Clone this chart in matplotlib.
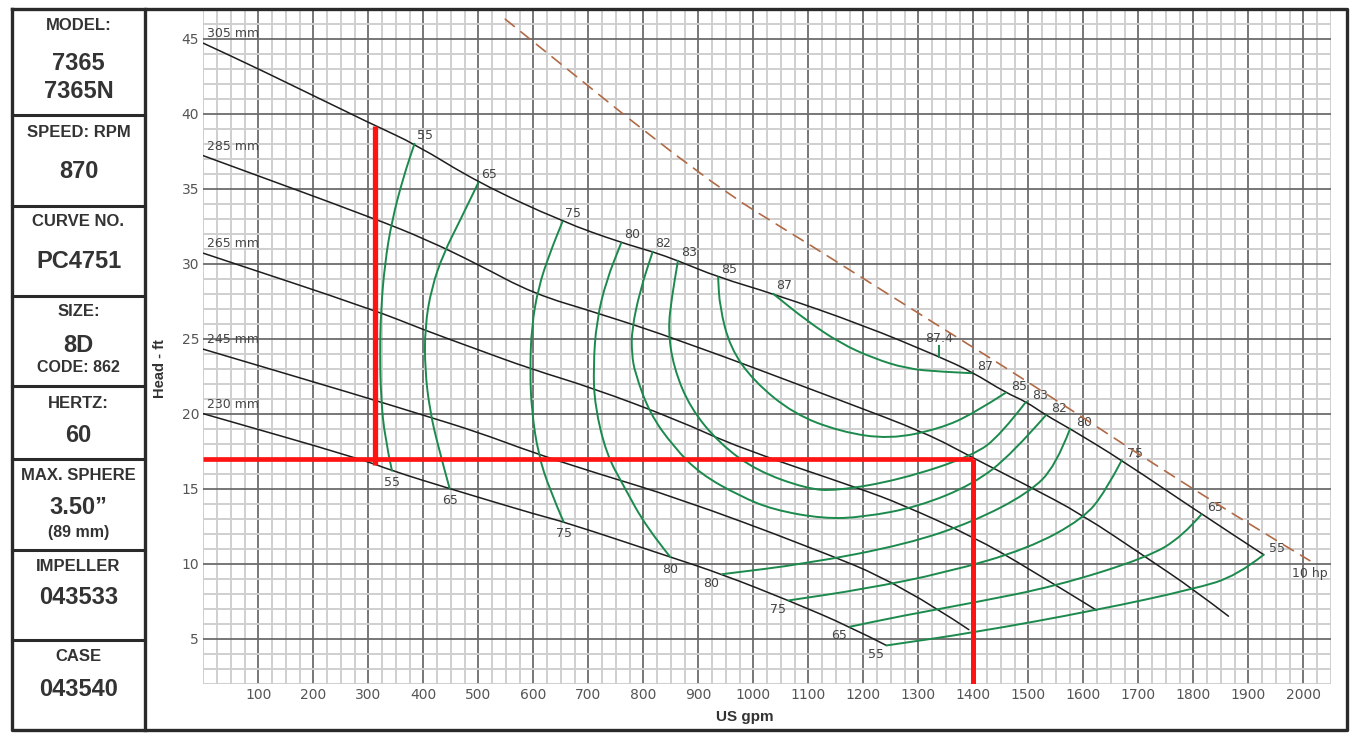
import numpy as np
import matplotlib
matplotlib.use("Agg")
import matplotlib.pyplot as plt
from matplotlib.ticker import MultipleLocator
from matplotlib.path import Path
from matplotlib.patches import PathPatch

# ---- impeller head curves (US gpm, ft) ----
Q_305 = [0, 100, 312, 384, 500, 653, 760, 817, 863, 936, 1036, 1200, 1338, 1397, 1459, 1496, 1532, 1576, 1670, 1815, 1928]
H_305 = [44.7, 43.0, 39.2, 38.0, 35.4, 32.8, 31.4, 30.8, 30.2, 29.1, 28.0, 25.9, 23.8, 22.8, 21.4, 20.8, 19.9, 19.0, 16.9, 13.3, 10.6]
Q_285 = [0, 312, 406, 497, 600, 718, 867, 1158, 1315, 1397, 1499, 1597, 1715, 1800, 1864]
H_285 = [37.2, 33.0, 31.6, 30.0, 28.0, 26.7, 24.9, 20.9, 18.7, 17.1, 15.2, 13.3, 10.4, 8.3, 6.5]
Q_265 = [0, 312, 400, 497, 594, 709, 861, 976, 1194, 1267, 1400, 1500, 1624]
H_265 = [30.7, 26.9, 25.6, 24.3, 23.0, 21.7, 19.6, 17.7, 15.0, 14.0, 11.8, 9.7, 6.9]
Q_245 = [0, 285, 400, 497, 600, 709, 861, 1097, 1270, 1392]
H_245 = [24.3, 21.2, 19.9, 18.8, 17.4, 16.1, 14.4, 11.2, 8.6, 5.6]
Q_230 = [0, 285, 343, 448, 612, 655, 849, 943, 1064, 1176, 1242]
H_230 = [20.0, 17.0, 16.2, 15.0, 13.2, 12.8, 10.45, 9.3, 7.55, 5.8, 4.55]
IMPELLER_NAMES = ["305 mm", "285 mm", "265 mm", "245 mm", "230 mm"]

# ---- efficiency contours (%) ----
E55_L_Q = [384, 364, 343, 330, 323, 321, 323, 330, 343]
E55_L_H = [38.0, 35.8, 32.9, 30.0, 26.9, 24.0, 21.1, 18.4, 16.2]
E65_L_Q = [500, 467, 437, 415, 403, 403, 412, 427, 448]
E65_L_H = [35.4, 32.9, 30.7, 28.4, 25.8, 22.9, 20.2, 17.8, 15.0]
E75_L_Q = [653, 630, 609, 597, 594, 597, 609, 630, 655]
E75_L_H = [32.8, 30.7, 28.4, 25.8, 22.9, 20.2, 17.3, 14.9, 12.8]
E80_L_Q = [760, 733, 715, 709, 712, 733, 764, 806, 849]
E80_L_H = [31.4, 28.9, 26.2, 23.1, 20.5, 17.3, 15.2, 12.4, 10.45]
E82_Q = [817, 794, 779, 779, 785, 812, 855, 903, 976, 1036, 1127, 1200, 1300, 1400, 1470, 1532]
E82_H = [30.8, 28.2, 25.6, 24.0, 22.7, 20.0, 17.8, 16.0, 14.5, 13.6, 13.0, 13.1, 13.8, 15.3, 17.3, 19.9]
E83_Q = [863, 852, 845, 855, 885, 939, 1006, 1097, 1150, 1267, 1400, 1450, 1496]
E83_H = [30.2, 27.8, 25.6, 23.1, 20.4, 18.0, 16.2, 15.0, 14.85, 15.6, 17.2, 18.6, 20.8]
E85_Q = [936, 939, 958, 1000, 1073, 1158, 1248, 1339, 1400, 1459]
E85_H = [29.1, 27.1, 24.4, 22.2, 20.0, 18.8, 18.3, 19.0, 20.0, 21.4]
E87_Q = [1036, 1097, 1158, 1218, 1279, 1339, 1397]
E87_H = [28.0, 26.2, 24.7, 23.7, 23.0, 22.8, 22.7]
E80_R_Q = [943, 1097, 1279, 1400, 1500, 1550, 1576]
E80_R_H = [9.3, 10.0, 11.3, 12.8, 14.7, 16.5, 19.0]
E75_R_Q = [1064, 1200, 1350, 1500, 1600, 1640, 1670]
E75_R_H = [7.55, 8.3, 9.4, 11.0, 13.0, 14.8, 16.9]
E65_R_Q = [1176, 1267, 1400, 1550, 1715, 1780, 1815]
E65_R_H = [5.8, 6.5, 7.4, 8.5, 10.4, 11.8, 13.3]
E55_R_Q = [1242, 1400, 1624, 1800, 1880, 1928]
E55_R_H = [4.55, 5.4, 6.9, 8.3, 9.2, 10.6]
BEP_Q = 1338
BEP_H = [23.8, 24.5]

# ---- 10 hp power limit ----
HP10_Q = [549, 915, 1097, 1339, 1497, 1830, 2012]
HP10_H = [46.3, 35.5, 31.4, 25.8, 22.2, 14.2, 10.2]

# ---- duty point marking ----
SHUTOFF_Q = 312
SHUTOFF_H = [16.6, 39.2]
DUTY_Q = 1400
DUTY_H = 17.0

INFO_HEAD = ["MODEL:", "SPEED: RPM", "CURVE NO.", "SIZE:", "HERTZ:", "MAX. SPHERE", "IMPELLER", "CASE"]


def smooth_line(ax, q, h, **kw):
    # quadratic bezier path: read points act as control points, curve runs through the ends
    pts = list(zip(q, h))
    verts = [pts[0]]
    codes = [Path.MOVETO]
    if len(pts) == 2:
        verts.append(pts[1])
        codes.append(Path.LINETO)
    else:
        verts.append(((pts[0][0] + pts[1][0]) / 2, (pts[0][1] + pts[1][1]) / 2))
        codes.append(Path.LINETO)
        for i in range(1, len(pts) - 1):
            if i < len(pts) - 2:
                end = ((pts[i][0] + pts[i + 1][0]) / 2, (pts[i][1] + pts[i + 1][1]) / 2)
            else:
                end = pts[-1]
            verts += [pts[i], end]
            codes += [Path.CURVE3, Path.CURVE3]
    ax.add_patch(PathPatch(Path(verts, codes), fill=False, capstyle="round", **kw))


W, H = 1355, 739
fig = plt.figure(figsize=(W / 100, H / 100), dpi=100)
ax = fig.add_axes([203.3 / W, 1 - 683.7 / H, 2050 * 0.55 / W, 675 / H])
ax.set_xlim(0, 2050)
ax.set_ylim(2, 47)
ax.set_xticks(np.arange(100, 2001, 100))
ax.set_yticks(np.arange(5, 46, 5))
ax.xaxis.set_minor_locator(MultipleLocator(25))
ax.yaxis.set_minor_locator(MultipleLocator(1))
ax.grid(which="minor", color="#cfcfcf", lw=1.4)
ax.grid(which="major", color="#6c6c6c", lw=1.3)
ax.set_axisbelow(True)
for s in ax.spines.values():
    s.set_visible(False)
ax.tick_params(which="both", length=0, labelsize=10, labelcolor="#555555")
ax.tick_params(axis="x", pad=3)
ax.tick_params(axis="y", pad=3)

lab = dict(fontsize=9, color="#444444", family="DejaVu Sans")

heads = [(Q_305, H_305), (Q_285, H_285), (Q_265, H_265), (Q_245, H_245), (Q_230, H_230)]
for (q, h), name in zip(heads, IMPELLER_NAMES):
    smooth_line(ax, q, h, edgecolor="#1e1e1e", lw=1.1, zorder=3)
    ax.annotate(name, (q[0], h[0]), xytext=(3, 2), textcoords="offset points",
                ha="left", va="bottom", **lab)

green = "#1b8a4c"
gkw = dict(edgecolor=green, lw=1.4, zorder=4)
# left arms: top on 305 mm, bottom on 230 mm
for q, h, t in [(E55_L_Q, E55_L_H, "55"), (E65_L_Q, E65_L_H, "65"),
                (E75_L_Q, E75_L_H, "75"), (E80_L_Q, E80_L_H, "80")]:
    smooth_line(ax, q, h, **gkw)
    ax.annotate(t, (q[0], h[0]), xytext=(2, 1), textcoords="offset points", ha="left", va="bottom", **lab)
    ax.annotate(t, (q[-1], h[-1]), xytext=(0, -4), textcoords="offset points", ha="center", va="top", **lab)
# closed loops: both ends on 305 mm
for q, h, t in [(E82_Q, E82_H, "82"), (E83_Q, E83_H, "83"), (E85_Q, E85_H, "85"), (E87_Q, E87_H, "87")]:
    smooth_line(ax, q, h, **gkw)
    ax.annotate(t, (q[0], h[0]), xytext=(2, 1), textcoords="offset points", ha="left", va="bottom", **lab)
    ax.annotate(t, (q[-1], h[-1]), xytext=(4, 0), textcoords="offset points", ha="left", va="bottom", **lab)
# right arms: bottom on 230 mm, top on 305 mm
for q, h, t in [(E80_R_Q, E80_R_H, "80"), (E75_R_Q, E75_R_H, "75"),
                (E65_R_Q, E65_R_H, "65"), (E55_R_Q, E55_R_H, "55")]:
    smooth_line(ax, q, h, **gkw)
    ax.annotate(t, (q[0], h[0]), xytext=(-2, -2), textcoords="offset points", ha="right", va="top", **lab)
    ax.annotate(t, (q[-1], h[-1]), xytext=(4, 0), textcoords="offset points", ha="left", va="bottom", **lab)
ax.plot([BEP_Q, BEP_Q], BEP_H, color=green, lw=1.4, zorder=4)
ax.annotate("87.4", (BEP_Q, BEP_H[1]), xytext=(0, 1), textcoords="offset points", ha="center", va="bottom", **lab)

smooth_line(ax, HP10_Q, HP10_H, edgecolor="#b06a45", lw=1.2, linestyle=(0, (7, 5)), zorder=3)
ax.annotate("10 hp", (HP10_Q[-1], HP10_H[-1]), xytext=(-13, -9), textcoords="offset points",
            ha="left", va="center", **lab)

red = "#ff1414"
ax.plot([SHUTOFF_Q, SHUTOFF_Q], SHUTOFF_H, color=red, lw=3.8, zorder=5, solid_capstyle="butt")
ax.plot([0, DUTY_Q], [DUTY_H, DUTY_H], color=red, lw=3.4, zorder=5, solid_capstyle="butt")
ax.plot([DUTY_Q, DUTY_Q], [DUTY_H, 2], color=red, lw=3.6, zorder=5, solid_capstyle="butt")

fig.text(160 / W, 1 - 369 / H, "Head - ft", rotation=90, ha="center", va="center",
         fontsize=10.5, fontweight="bold", color="#333333", family="Liberation Sans")
fig.text(745 / W, 1 - 717 / H, "US gpm", ha="center", va="center",
         fontsize=11, fontweight="bold", color="#333333", family="Liberation Sans")

# ---- frame and info panel ----
fr = fig.add_axes([0, 0, 1, 1])
fr.set_xlim(0, W)
fr.set_ylim(H, 0)
fr.axis("off")
edge = "#2a2a2a"
fr.plot([12, 1347, 1347, 12, 12], [8.5, 8.5, 730, 730, 8.5], color=edge, lw=2.4)
fr.plot([145, 145], [8.5, 730], color=edge, lw=2.4)
for y in [115, 205.7, 296, 386, 459.3, 550, 640]:
    fr.plot([12, 145], [y, y], color=edge, lw=2.2)

cx = 78.5
head_y = [25, 132.7, 222, 312, 403, 476, 566.7, 656.7]
for t, y in zip(INFO_HEAD, head_y):
    fr.text(cx, y, t, ha="center", va="center", fontsize=12, fontweight="bold",
            color="#333333", family="Liberation Sans")
vals = [("7365", 63), ("7365N", 92), ("870", 172), ("PC4751", 262), ("8D", 345),
        ("60", 435.7), ("3.50\u201d", 508), ("043533", 598), ("043540", 689)]
for t, y in vals:
    fr.text(cx, y, t, ha="center", va="center", fontsize=17, fontweight="bold",
            color="#333333", family="Liberation Sans")
for t, y in [("CODE: 862", 367.5), ("(89 mm)", 532)]:
    fr.text(cx, y, t, ha="center", va="center", fontsize=11.5, fontweight="bold",
            color="#333333", family="Liberation Sans")

fig.savefig("out.png", dpi=100)
